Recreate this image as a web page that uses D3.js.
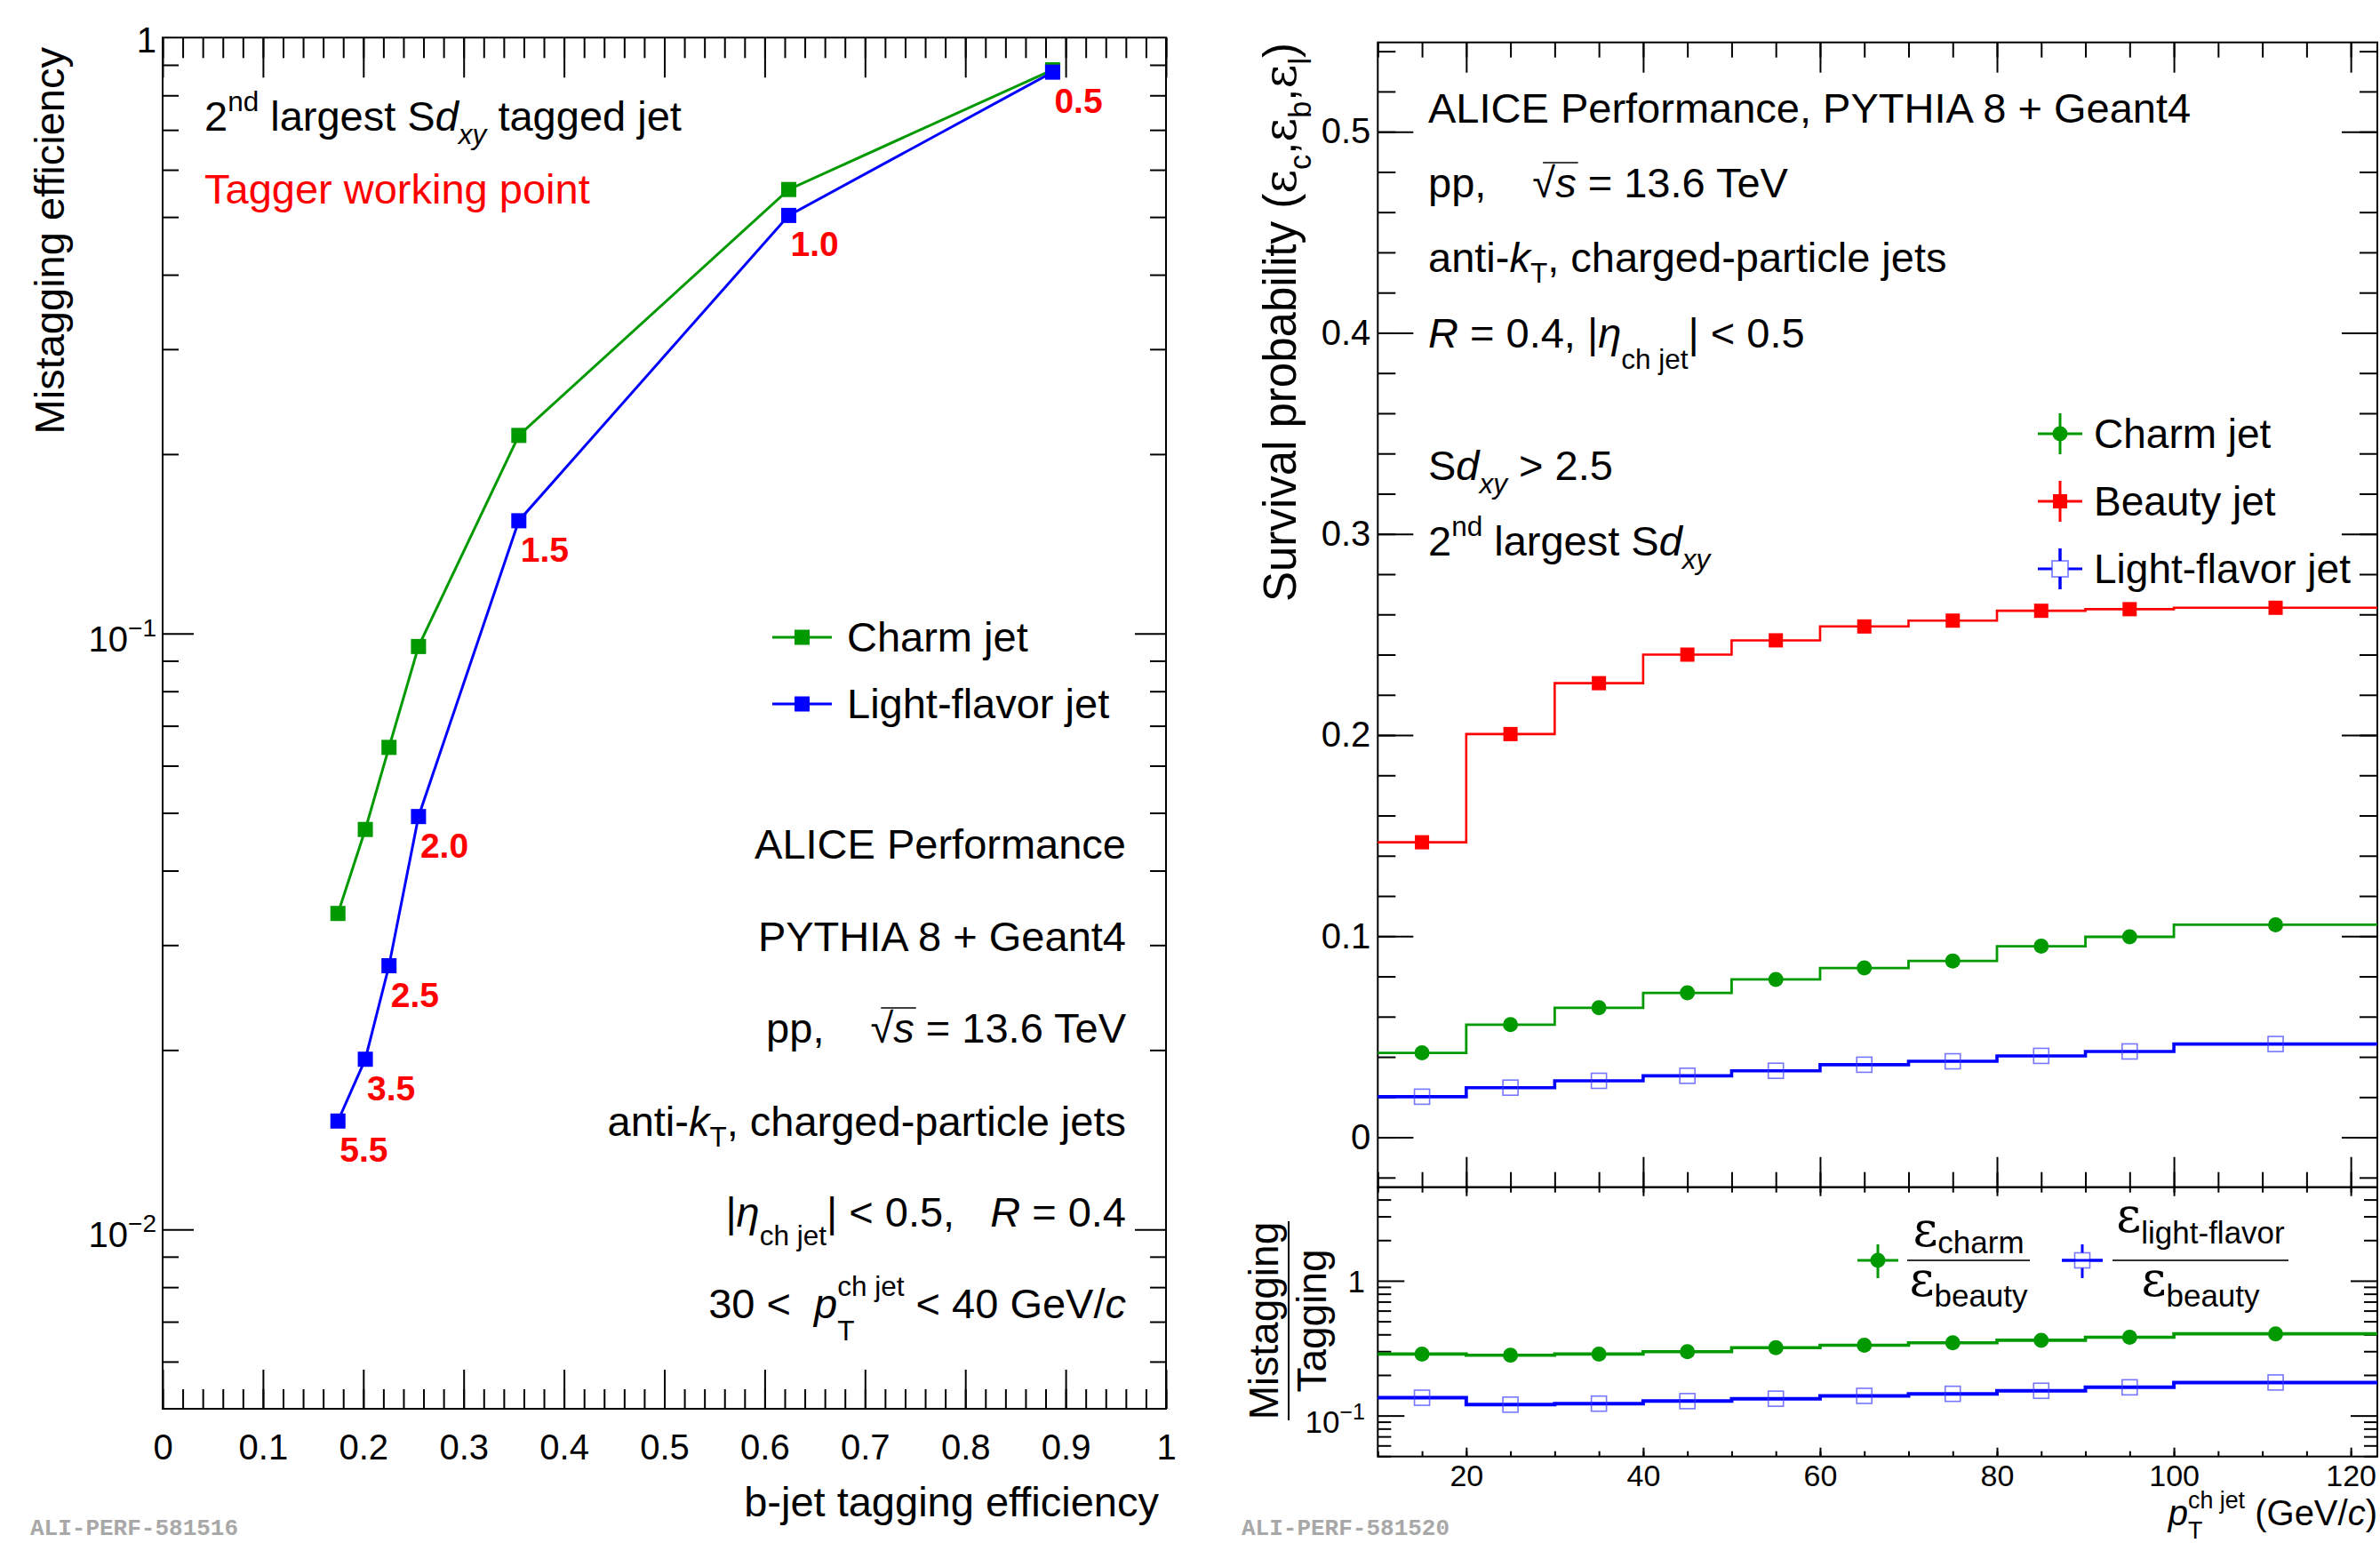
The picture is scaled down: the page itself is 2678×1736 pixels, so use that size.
<!DOCTYPE html>
<html>
<head>
<meta charset="utf-8">
<script src="https://cdn.jsdelivr.net/npm/d3@7"></script>
<style>
  body { margin: 0; background: #fff; }
  svg text { white-space: pre; }
</style>
</head>
<body>
<svg id="chart" width="2678" height="1736"></svg>
<script>
var SANS = "'Liberation Sans', Arial, Helvetica, sans-serif";
var SERIF = "'DejaVu Serif', 'Liberation Serif', serif";
var GREEN = "#009900", BLUE = "#0000ff", RED = "#ff0000";

// ---- left panel : mistagging vs b-jet tagging efficiency
var bEff = [0.887, 0.624, 0.355, 0.255, 0.2256, 0.202, 0.1747];
var misCharm = [0.883, 0.556, 0.215, 0.0951, 0.0644, 0.0469, 0.0339];
var misLight = [0.875, 0.503, 0.1546, 0.0493, 0.0277, 0.0193, 0.0152];
var wpLabels = ["0.5", "1.0", "1.5", "2.0", "2.5", "3.5", "5.5"];
var xTicksL = [0, 0.1, 0.2, 0.3, 0.4, 0.5, 0.6, 0.7, 0.8, 0.9, 1];
var xTickLabelsL = ["0", "0.1", "0.2", "0.3", "0.4", "0.5", "0.6", "0.7", "0.8", "0.9", "1"];

// ---- right panel : survival probability vs pT
var ptEdges = [10, 20, 30, 40, 50, 60, 70, 80, 90, 100, 123];
var ptCenters = [15, 25, 35, 45, 55, 65, 75, 85, 95, 111.5];
var survBeauty = [0.1467, 0.2005, 0.2258, 0.240, 0.2471, 0.254, 0.2569, 0.2618, 0.2626, 0.2633];
var survCharm = [0.042, 0.056, 0.0644, 0.0718, 0.0785, 0.0842, 0.0877, 0.095, 0.0997, 0.1057];
var survLight = [0.0202, 0.0247, 0.0281, 0.0306, 0.0331, 0.0361, 0.0378, 0.0405, 0.0427, 0.0464];
var ratioCharm = [0.286, 0.2805, 0.286, 0.298, 0.3186, 0.3325, 0.3467, 0.3618, 0.381, 0.404];
var ratioLight = [0.1356, 0.1205, 0.1226, 0.128, 0.1334, 0.140, 0.145, 0.1527, 0.162, 0.176];
var yTicksU = [0, 0.1, 0.2, 0.3, 0.4, 0.5];
var yTickLabelsU = ["0", "0.1", "0.2", "0.3", "0.4", "0.5"];
var xTicksR = [20, 40, 60, 80, 100, 120];

var svg = d3.select("#chart");

// text with sub / superscripts, built piece by piece
var rich = function(parent, x, y, parts, o) {
  o = o || {};
  var size = o.size || 47;
  var g = parent.append("g").attr("fill", o.color || "#000")
    .attr("font-family", SANS).attr("font-weight", o.weight || "normal");
  var cx = 0;
  parts.forEach(function(p) {
    if (typeof p === "string") p = {t: p};
    var fs;
    if (p.stack) {
      fs = size * 0.67;
      var a = g.append("text").attr("x", cx).attr("y", -size * p.up)
        .attr("font-size", fs).text(p.stack[0]);
      var b = g.append("text").attr("x", cx).attr("y", size * p.down)
        .attr("font-size", fs).text(p.stack[1]);
      cx += Math.max(a.node().getComputedTextLength(), b.node().getComputedTextLength());
      return;
    }
    fs = p.fs || (p.s ? size * 0.67 : size);
    var dy = p.s === "sub" ? size * 0.25 : p.s === "sup" ? -size * 0.42 : 0;
    var t = g.append("text").attr("x", cx + (p.dx || 0)).attr("y", dy + (p.dy || 0))
      .attr("font-size", fs)
      .attr("font-style", p.i ? "italic" : "normal")
      .text(p.t);
    if (p.f) t.attr("font-family", p.f);
    var w = t.node().getComputedTextLength();
    if (p.over) {
      g.append("line").attr("x1", cx - 14).attr("x2", cx + w + 2)
        .attr("y1", -size * 0.83).attr("y2", -size * 0.83)
        .attr("stroke", o.color || "#000").attr("stroke-width", 1.5);
    }
    cx += w + (p.dx || 0) + (p.after || 0);
  });
  var sh = o.anchor === "end" ? -cx : o.anchor === "middle" ? -cx / 2 : 0;
  g.attr("transform", "translate(" + x + "," + y + ")" + (o.rot ? " rotate(" + o.rot + ")" : "") +
    " translate(" + sh + ",0)");
  return g;
};

var ax = function(axis, tx, ty, fs) {
  var a = svg.append("g").attr("transform", "translate(" + tx + "," + ty + ")").call(axis);
  a.select(".domain").remove();
  a.attr("font-family", SANS).attr("font-size", fs || 40);
  a.selectAll("line").attr("stroke", "#000").attr("stroke-width", 2);
  a.selectAll("text").attr("fill", "#000");
  return a;
};

var logMinors = function(lo, hi) {
  var out = [];
  for (var e = -4; e <= 1; e++) {
    for (var k = 2; k <= 9; k++) {
      var v = k * Math.pow(10, e);
      if (v > lo && v < hi) out.push(v);
    }
  }
  return out;
};

// ================= LEFT PANEL =================
var L = {x0: 183, x1: 1312, y0: 42.3, y1: 1585};
var xL = d3.scaleLinear().domain([0, 1]).range([L.x0, L.x1]);
var yL = d3.scaleLog().domain([0.005, 1]).range([L.y1, L.y0]);

ax(d3.axisBottom(xL).tickValues(d3.range(0, 1.0001, 0.02)).tickSize(-22).tickFormat(""), 0, L.y1);
ax(d3.axisBottom(xL).tickValues(xTicksL).tickSize(-44).tickPadding(29)
  .tickFormat(function(d, i) { return xTickLabelsL[i]; }), 0, L.y1);
ax(d3.axisTop(xL).tickValues(d3.range(0, 1.0001, 0.02)).tickSize(-23).tickFormat(""), 0, L.y0);
ax(d3.axisTop(xL).tickValues(xTicksL).tickSize(-45).tickFormat(""), 0, L.y0);
ax(d3.axisLeft(yL).tickValues(logMinors(0.005, 1)).tickSize(-18).tickFormat(""), L.x0, 0);
ax(d3.axisLeft(yL).tickValues([0.01, 0.1]).tickSize(-35).tickFormat(""), L.x0, 0);
ax(d3.axisRight(yL).tickValues(logMinors(0.005, 1)).tickSize(-18).tickFormat(""), L.x1, 0);
ax(d3.axisRight(yL).tickValues([0.01, 0.1]).tickSize(-35).tickFormat(""), L.x1, 0);

svg.append("rect").attr("x", L.x0).attr("y", L.y0).attr("width", L.x1 - L.x0).attr("height", L.y1 - L.y0)
  .attr("fill", "none").attr("stroke", "#000").attr("stroke-width", 2);

rich(svg, 176, yL(1) + 17, ["1"], {size: 40, anchor: "end"});
rich(svg, 176, yL(0.1) + 20, ["10", {t: "\u22121", s: "sup", fs: 28}], {size: 40, anchor: "end"});
rich(svg, 176, yL(0.01) + 20, ["10", {t: "\u22122", s: "sup", fs: 28}], {size: 40, anchor: "end"});

rich(svg, 1304, 1706, ["b-jet tagging efficiency"], {anchor: "end"});
rich(svg, 72, 53, ["Mistagging efficiency"], {anchor: "end", rot: -90});

var rocLine = d3.line().x(function(d) { return xL(d[0]); }).y(function(d) { return yL(d[1]); });
[[misCharm, GREEN], [misLight, BLUE]].forEach(function(s) {
  var pts = bEff.map(function(b, i) { return [b, s[0][i]]; });
  svg.append("path").attr("d", rocLine(pts)).attr("fill", "none")
    .attr("stroke", s[1]).attr("stroke-width", 3);
  svg.append("g").selectAll("rect").data(pts).enter().append("rect")
    .attr("x", function(d) { return xL(d[0]) - 8.5; })
    .attr("y", function(d) { return yL(d[1]) - 8.5; })
    .attr("width", 17).attr("height", 17).attr("fill", s[1]);
});

svg.append("g").selectAll("text").data(wpLabels).enter().append("text")
  .attr("x", function(d, i) { return xL(bEff[i]) + 2; })
  .attr("y", function(d, i) { return yL(misLight[i]) + 46; })
  .attr("font-family", SANS).attr("font-weight", "bold").attr("font-size", 39)
  .attr("fill", RED).text(function(d) { return d; });

rich(svg, 230, 147, ["2", {t: "nd", s: "sup", dy: -2}, " largest S", {t: "d", i: true},
  {t: "xy", s: "sub", i: true, dy: 3}, " tagged jet"]);
rich(svg, 230, 229, ["Tagger working point"], {color: RED});

// legend
[["Charm jet", GREEN, 717], ["Light-flavor jet", BLUE, 792]].forEach(function(e) {
  svg.append("line").attr("x1", 869).attr("x2", 936).attr("y1", e[2]).attr("y2", e[2])
    .attr("stroke", e[1]).attr("stroke-width", 3);
  svg.append("rect").attr("x", 902.5 - 8.5).attr("y", e[2] - 8.5).attr("width", 17).attr("height", 17)
    .attr("fill", e[1]);
  rich(svg, 953, e[2] + 16, [e[0]]);
});

var RX = 1267;
rich(svg, RX, 966, ["ALICE Performance"], {anchor: "end"});
rich(svg, RX, 1070, ["PYTHIA 8 + Geant4"], {anchor: "end"});
rich(svg, RX, 1173, ["pp,", {t: "", after: 52}, "\u221a", {t: "s", i: true, over: true}, " = 13.6 TeV"], {anchor: "end"});
rich(svg, RX, 1278, ["anti-", {t: "k", i: true}, {t: "T", s: "sub"}, ", charged-particle jets"], {anchor: "end"});
rich(svg, RX, 1380, ["|", {t: "\u03b7", i: true}, {t: "ch jet", s: "sub", dy: 9}, "| < 0.5,", {t: "", after: 40},
  {t: "R", i: true}, " = 0.4"], {anchor: "end"});
rich(svg, RX, 1483, ["30 <  ", {t: "p", i: true}, {stack: ["ch jet", "T"], up: 0.53, down: 0.53},
  " < 40 GeV/", {t: "c", i: true}], {anchor: "end"});

svg.append("text").attr("x", 34).attr("y", 1727).attr("font-family", "'Liberation Mono', 'Courier New', monospace")
  .attr("font-weight", "bold").attr("font-size", 26).attr("fill", "#a8a8a8").text("ALI-PERF-581516");

// ================= RIGHT PANEL =================
var U = {x0: 1550.3, x1: 2675, y0: 47.7, y1: 1335.7};
var D = {x0: 1550.3, x1: 2675, y0: 1335.7, y1: 1638.7};
var xR = d3.scaleLinear().domain([10, 123]).range([U.x0, U.x1]);
var yU = d3.scaleLinear().domain([-0.0248, 0.5444]).range([U.y1, U.y0]);
var yD = d3.scaleLog().domain([0.0497, 4.94]).range([D.y1, D.y0]);
var xMinorR = d3.range(10, 123, 5);

// upper pad axes
ax(d3.axisLeft(yU).tickValues(d3.range(-0.02, 0.541, 0.02)).tickSize(-20).tickFormat(""), U.x0, 0);
ax(d3.axisLeft(yU).tickValues(yTicksU).tickSize(-40).tickPadding(8)
  .tickFormat(function(d, i) { return yTickLabelsU[i]; }), U.x0, 0);
ax(d3.axisRight(yU).tickValues(d3.range(-0.02, 0.541, 0.02)).tickSize(-20).tickFormat(""), U.x1, 0);
ax(d3.axisRight(yU).tickValues(yTicksU).tickSize(-40).tickFormat(""), U.x1, 0);
ax(d3.axisBottom(xR).tickValues(xMinorR).tickSize(-17).tickFormat(""), 0, U.y1);
ax(d3.axisBottom(xR).tickValues(xTicksR).tickSize(-34).tickFormat(""), 0, U.y1);
ax(d3.axisTop(xR).tickValues(xMinorR).tickSize(-17).tickFormat(""), 0, U.y0);
ax(d3.axisTop(xR).tickValues(xTicksR).tickSize(-34).tickFormat(""), 0, U.y0);

// lower pad axes
ax(d3.axisTop(xR).tickValues(xMinorR).tickSize(-6).tickFormat(""), 0, D.y0);
ax(d3.axisTop(xR).tickValues(xTicksR).tickSize(-10).tickFormat(""), 0, D.y0);
ax(d3.axisBottom(xR).tickValues(xMinorR).tickSize(-6).tickFormat(""), 0, D.y1);
ax(d3.axisBottom(xR).tickValues(xTicksR).tickSize(-10).tickPadding(9), 0, D.y1, 34);
ax(d3.axisLeft(yD).tickValues(logMinors(0.0497, 4.94)).tickSize(-15).tickFormat(""), D.x0, 0);
ax(d3.axisLeft(yD).tickValues([0.1, 1]).tickSize(-30).tickFormat(""), D.x0, 0);
ax(d3.axisRight(yD).tickValues(logMinors(0.0497, 4.94)).tickSize(-15).tickFormat(""), D.x1, 0);
ax(d3.axisRight(yD).tickValues([0.1, 1]).tickSize(-30).tickFormat(""), D.x1, 0);

[U, D].forEach(function(p) {
  svg.append("rect").attr("x", p.x0).attr("y", p.y0).attr("width", p.x1 - p.x0).attr("height", p.y1 - p.y0)
    .attr("fill", "none").attr("stroke", "#000").attr("stroke-width", 2);
});

rich(svg, 1536, yD(1) + 13, ["1"], {size: 35, anchor: "end"});
rich(svg, 1536, yD(0.1) + 19, ["10", {t: "\u22121", s: "sup", fs: 25}], {size: 35, anchor: "end"});

// step histograms with markers
var drawMarker = function(g, cx, cy, m) {
  if (m === "circle") {
    g.append("circle").attr("cx", cx).attr("cy", cy).attr("r", 8.5).attr("fill", GREEN);
  } else if (m === "square") {
    g.append("rect").attr("x", cx - 8).attr("y", cy - 8).attr("width", 16).attr("height", 16).attr("fill", RED);
  } else {
    g.append("rect").attr("x", cx - 8.5).attr("y", cy - 8.5).attr("width", 17).attr("height", 17)
      .attr("fill", "none").attr("stroke", "rgba(60,60,255,0.7)").attr("stroke-width", 1.6);
  }
};

var drawHist = function(vals, yS, color, lw, marker) {
  var pts = vals.map(function(v, i) { return [ptEdges[i], v]; });
  pts.push([ptEdges[ptEdges.length - 1], vals[vals.length - 1]]);
  var line = d3.line().curve(d3.curveStepAfter)
    .x(function(d) { return xR(d[0]); }).y(function(d) { return yS(d[1]); });
  svg.append("path").attr("d", line(pts)).attr("fill", "none")
    .attr("stroke", color).attr("stroke-width", lw);
  var g = svg.append("g");
  vals.forEach(function(v, i) { drawMarker(g, xR(ptCenters[i]), yS(v), marker); });
};

drawHist(survBeauty, yU, RED, 2.6, "square");
drawHist(survCharm, yU, GREEN, 2.8, "circle");
drawHist(survLight, yU, BLUE, 3.6, "open");
drawHist(ratioCharm, yD, GREEN, 3.6, "circle");
drawHist(ratioLight, yD, BLUE, 4, "open");

// texts in the upper pad
var TX = 1607;
rich(svg, TX, 138, ["ALICE Performance, PYTHIA 8 + Geant4"]);
rich(svg, TX, 222, ["pp,", {t: "", after: 52}, "\u221a", {t: "s", i: true, over: true}, " = 13.6 TeV"]);
rich(svg, TX, 306, ["anti-", {t: "k", i: true}, {t: "T", s: "sub"}, ", charged-particle jets"]);
rich(svg, TX, 391, [{t: "R", i: true}, " = 0.4, |", {t: "\u03b7", i: true}, {t: "ch jet", s: "sub", dy: 12}, "| < 0.5"]);
rich(svg, TX, 540, ["S", {t: "d", i: true}, {t: "xy", s: "sub", i: true, dy: 3}, " > 2.5"]);
rich(svg, TX, 625, ["2", {t: "nd", s: "sup", dy: -2}, " largest S", {t: "d", i: true}, {t: "xy", s: "sub", i: true, dy: 3}]);

// legend (upper pad)
[["Charm jet", GREEN, 488, "circle"], ["Beauty jet", RED, 564, "square"], ["Light-flavor jet", BLUE, 640, "open"]]
  .forEach(function(e) {
    svg.append("line").attr("x1", 2293).attr("x2", 2343).attr("y1", e[2]).attr("y2", e[2])
      .attr("stroke", e[1]).attr("stroke-width", 3);
    svg.append("line").attr("x1", 2318).attr("x2", 2318).attr("y1", e[2] - 23).attr("y2", e[2] + 23)
      .attr("stroke", e[1]).attr("stroke-width", 3);
    var g = svg.append("g");
    if (e[3] === "open") {
      g.append("rect").attr("x", 2309).attr("y", e[2] - 9).attr("width", 18).attr("height", 18)
        .attr("fill", "#fff").attr("stroke", "rgba(60,60,255,0.7)").attr("stroke-width", 1.6);
      g.append("line").attr("x1", 2318).attr("x2", 2318).attr("y1", e[2] - 23).attr("y2", e[2] - 9)
        .attr("stroke", e[1]).attr("stroke-width", 3);
      g.append("line").attr("x1", 2318).attr("x2", 2318).attr("y1", e[2] + 9).attr("y2", e[2] + 23)
        .attr("stroke", e[1]).attr("stroke-width", 3);
    } else {
      drawMarker(g, 2318, e[2], e[3]);
    }
    rich(svg, 2356, e[2] + 16, [e[0]], {size: 46});
  });

// legend (lower pad)
var frac = function(cx, bar0, bar1, numSub, numY, numDy) {
  svg.append("line").attr("x1", bar0).attr("x2", bar1).attr("y1", 1418).attr("y2", 1418)
    .attr("stroke", "#333").attr("stroke-width", 2);
  rich(svg, cx, numY, [{t: "\u03b5", f: SERIF, fs: 54}, {t: numSub, fs: 35, dy: numDy}], {anchor: "middle"});
  rich(svg, cx, 1458, [{t: "\u03b5", f: SERIF, fs: 54}, {t: "beauty", fs: 35, dy: 12}], {anchor: "middle"});
};
[[2113, GREEN, "circle"], [2343, BLUE, "open"]].forEach(function(e) {
  svg.append("line").attr("x1", e[0] - 23).attr("x2", e[0] + 23).attr("y1", 1418).attr("y2", 1418)
    .attr("stroke", e[1]).attr("stroke-width", 3);
  svg.append("line").attr("x1", e[0]).attr("x2", e[0]).attr("y1", 1400).attr("y2", 1438)
    .attr("stroke", e[1]).attr("stroke-width", 3);
  if (e[2] === "open") {
    svg.append("rect").attr("x", e[0] - 8.5).attr("y", 1409.5).attr("width", 17).attr("height", 17)
      .attr("fill", "#fff").attr("stroke", "rgba(60,60,255,0.7)").attr("stroke-width", 1.6);
    svg.append("line").attr("x1", e[0] - 23).attr("x2", e[0] + 23).attr("y1", 1418).attr("y2", 1418)
      .attr("stroke", e[1]).attr("stroke-width", 3);
  } else {
    drawMarker(svg, e[0], 1418, e[2]);
  }
});
frac(2215, 2146, 2284, "charm", 1402, 8);
frac(2476, 2377, 2575, "light-flavor", 1386, 13);

// axis titles
rich(svg, 2675, 1716, [{t: "p", i: true}, {stack: ["ch jet", "T"], up: 0.48, down: 0.38}, " (GeV/", {t: "c", i: true}, ")"],
  {size: 40, anchor: "end"});
rich(svg, 1458, 48, ["Survival probability ", "(", {t: "\u03b5", f: SERIF, fs: 52}, {t: "c", s: "sub", dy: 4}, ",",
  {t: "\u03b5", f: SERIF, fs: 52}, {t: "b", s: "sub", dy: 4}, ",", {t: "\u03b5", f: SERIF, fs: 52}, {t: "l", s: "sub", dy: 4}, ")"],
  {size: 51, anchor: "end", rot: -90});
rich(svg, 1438, 1486, ["Mistagging"], {size: 46, anchor: "middle", rot: -90});
rich(svg, 1492, 1486, ["Tagging"], {size: 46, anchor: "middle", rot: -90});
svg.append("line").attr("x1", 1450).attr("x2", 1450).attr("y1", 1374).attr("y2", 1598)
  .attr("stroke", "#000").attr("stroke-width", 2);

svg.append("text").attr("x", 1397).attr("y", 1727).attr("font-family", "'Liberation Mono', 'Courier New', monospace")
  .attr("font-weight", "bold").attr("font-size", 26).attr("fill", "#a8a8a8").text("ALI-PERF-581520");
</script>
</body>
</html>
